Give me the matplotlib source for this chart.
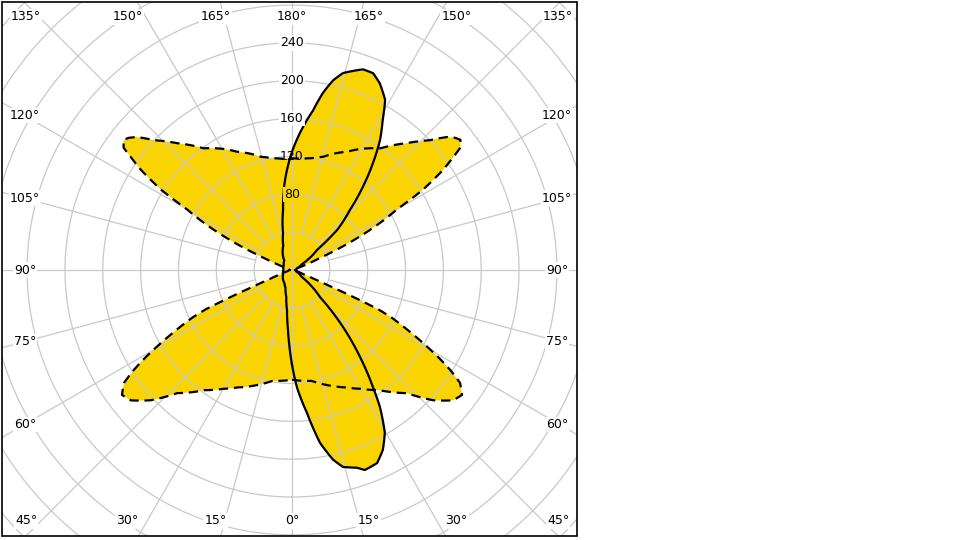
import numpy as np
import matplotlib.pyplot as plt
from matplotlib.patches import Rectangle

# luminous intensity (cd/klm) per plane, gamma 0 = nadir, 180 = zenith
c0_gamma = [0, 2.4, 6, 9.2, 12.2, 14.5, 18.2, 20, 23.8, 26.8, 29.7, 32.7, 34.7, 38, 41.8, 46, 55, 70, 90,
            110, 120, 128.7, 131.6, 136, 139.5, 142.9, 145.9, 148.8, 151.3, 154.8, 157.6, 160.5, 163,
            165.5, 167.8, 170.1, 172.5, 176.7, 180]
c0_cd = [100, 124, 152, 185, 205, 215, 220, 225, 223, 213, 198, 172, 150, 117, 81, 41, 12, 5, 3,
         6, 12, 34, 64, 88, 115, 142, 166, 185, 205, 218, 225, 225, 220,
         215, 205, 190, 170, 145, 125]

c180_gamma = [0, 2, 4, 7, 12, 20, 30, 42, 60, 90, 120, 141, 160, 166.3, 171.5, 174.5, 177, 180]
c180_cd = [100, 80, 62, 43, 29, 20, 16, 14, 11, 9, 10, 13, 27, 40, 64, 88, 105, 125]

c90_gamma = [0, 10, 16, 25, 30, 36, 43, 47.3, 51, 53.7, 56.1, 57.7, 59.2, 60.6, 62.3, 64.5, 65.5, 66,
             66.5, 67, 68, 70, 75, 90, 108, 111, 113, 114, 115.5, 117, 118.5, 120, 121.5, 123.5, 125,
             126, 127.7, 129, 130.6, 133.3, 137.8, 144, 150, 155, 160, 164.7, 170, 175, 180]
c90_cd = [116, 119, 126, 137, 145, 157, 178, 203, 219, 223, 214, 198, 180, 162, 141, 116, 100, 80,
          60, 42, 25, 12, 5, 2, 5, 15, 30, 44, 68, 90, 110, 128, 162, 191, 208,
          220, 225, 222, 216, 200, 181, 159, 148, 138, 131, 124, 120, 118, 118]
# C270 is the same as C90
c270_gamma = c90_gamma
c270_cd = c90_cd

ring_values = [40, 80, 120, 160, 200, 240, 280, 320, 360, 400, 440]
ring_labels = [80, 120, 160, 200, 240]

YELLOW = '#F9D400'
GRID = '#C9C9C9'

W, H = 960, 540
CX, CY = 292, 270          # centre of the diagram in pixels (from top-left)
SCALE = 0.946              # pixels per cd/klm
RMAX = 450


def loop(g_right, v_right, g_left, v_left):
    th = np.concatenate([np.array(g_right), 360 - np.array(g_left)[::-1]])
    r = np.concatenate([np.array(v_right), np.array(v_left)[::-1]])
    return np.radians(th), r


fig = plt.figure(figsize=(9.6, 5.4), dpi=100)
rad = RMAX * SCALE
ax = fig.add_axes([(CX - rad) / W, (H - CY - rad) / H, 2 * rad / W, 2 * rad / H], projection='polar')
ax.set_theta_zero_location('S')
ax.set_theta_direction(1)
ax.set_ylim(0, RMAX)
ax.grid(False)
ax.set_xticks([])
ax.set_yticks([])
ax.spines['polar'].set_visible(False)
ax.patch.set_visible(False)

th0, r0 = loop(c0_gamma, c0_cd, c180_gamma, c180_cd)
th90, r90 = loop(c90_gamma, c90_cd, c270_gamma, c270_cd)

fills = ax.fill(th0, r0, color=YELLOW, lw=0, zorder=1)
fills += ax.fill(th90, r90, color=YELLOW, lw=0, zorder=1)

# grid
circ = np.radians(np.linspace(0, 360, 721))
for rv in ring_values:
    ax.plot(circ, np.full_like(circ, rv), color=GRID, lw=0.9, zorder=2)
for a in range(0, 360, 15):
    r_start = 0 if a % 90 == 0 else 40
    ax.plot([np.radians(a)] * 2, [r_start, RMAX], color=GRID, lw=0.9, zorder=2)

curves = ax.plot(th90, r90, color='black', lw=1.6, ls=(0, (4.2, 2.6)), zorder=4)
curves += ax.plot(th0, r0, color='black', lw=1.6, zorder=4)

# draw segments between measured angles as polar arcs
for art in fills + curves:
    art.get_path()._interpolation_steps = 16

for rv in ring_labels:
    if rv >= 160:
        bb = dict(boxstyle='square,pad=0.1', fc='white', ec='none')
    elif rv == 80:
        bb = dict(boxstyle='square,pad=0.1', fc=YELLOW, ec='none')
    else:
        bb = None
    ax.text(np.pi, rv, str(rv), ha='center', va='center', fontsize=9, zorder=5, bbox=bb)

clip = Rectangle((2 / W, (H - 536) / H), 575 / W, 534 / H, transform=fig.transFigure)
for art in ax.lines + ax.patches + ax.collections:
    art.set_clip_path(clip)

fig.add_artist(Rectangle((2 / W, (H - 536) / H), 575 / W, 534 / H, transform=fig.transFigure,
                         fill=False, ec='black', lw=1.2, zorder=10))


def px_text(x, y, s):
    fig.text(x / W, 1 - y / H, s, ha='center', va='center', fontsize=9, zorder=11,
             bbox=dict(boxstyle='square,pad=0.1', fc='white', ec='none'))


# angle labels on the box edges
for g in [0, 15, 30, 45]:
    off = min(285 * np.tan(np.radians(g)), 266)
    for sgn in ([1] if g == 0 else [-1, 1]):
        px_text(CX + sgn * off, 521, f'{g}°')
        px_text(CX + sgn * off, 17, f'{180 - g}°')
for g in [60, 75, 90, 105, 120]:
    y = CY - 268 * np.tan(np.radians(g - 90))
    px_text(25, y, f'{g}°')
    px_text(557, y, f'{g}°')

fig.savefig('out.png', dpi=100)
